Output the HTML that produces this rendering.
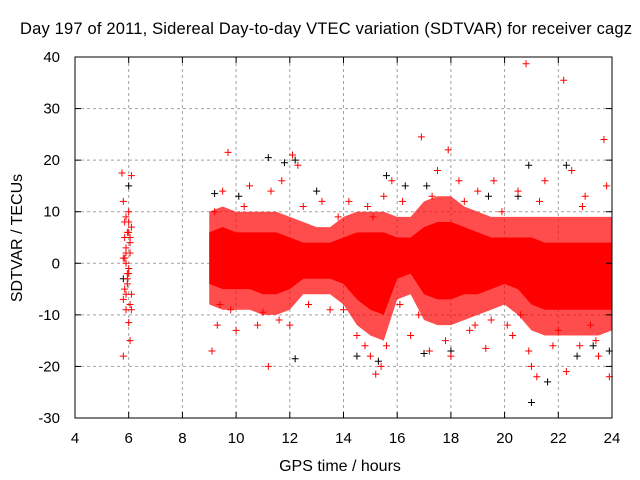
<!DOCTYPE html>
<html><head><meta charset="utf-8"><style>
body{margin:0;background:#fff}
svg{display:block;font-family:"Liberation Sans",sans-serif}
</style></head><body>
<svg id="c" width="640" height="480"></svg>
<script>
const xTicks=[4,6,8,10,12,14,16,18,20,22,24];
const yTicks=[-30,-20,-10,0,10,20,30,40];
const bandX=[9,9.5,10,10.5,11,11.5,12,12.5,13,13.5,14,14.5,15,15.5,16,16.5,17,17.5,18,18.5,19,19.5,20,20.5,21,21.5,22,22.5,23,23.5,24];
const bandLow=[-4,-5,-5,-5,-6,-6,-5,-3,-3,-3,-4,-7,-9,-10,-3,-2,-6,-7,-7,-6,-6,-5,-4,-5,-8,-9,-9,-9,-9,-9,-9];
const bandHigh=[6,7,6,6,6,6,5,4,4,4,5,6,6,6,5,5,7,8,8,7,6,5,5,5,5,4,4,4,4,4,4];
const outerLow=[-8,-9,-9,-9,-10,-10,-9,-6,-6,-6,-8,-12,-14,-15,-7,-6,-11,-12,-12,-11,-10,-9,-8,-10,-13,-14,-14,-14,-14,-14,-13];
const outerHigh=[10,11,10,10,10,10,9,8,7,7,9,10,10,10,9,9,12,13,13,11,10,9,9,9,9,9,9,9,9,9,9];
const ptX=[5.75,6.1,5.8,6.05,6,5.9,5.8,6,5.85,6.05,5.9,5.95,6.1,5.8,6,5.9,6.05,5.85,9.1,9.7,9.5,9.3,10,10.5,10.8,11.2,11.3,11.7,12.1,12.3,12,11.6,12.7,13.2,13.5,14.2,14.5,14.8,15,15.2,15.4,15.6,15.5,15.8,16.2,16.5,16.9,17.2,17.5,17.8,17.9,18,18.3,18.7,19,19.3,19.6,20.1,20.5,20.8,20.9,21,21.2,21.5,21.8,22.2,22.3,22.5,22.8,23,23.4,23.7,23.9,23.8,23.5,22,20.6,19.9,18.5,17.3,16.8,14,13.8,10.3,9.8,9.2,12.5,11,14.9,16.1,19.5,21.3,22.9,23.2,20.3,18.9,15.1,9.4,5.95,6.0,5.85,6.1,5.9,6.0,5.95,6.05,5.85,5.9,6.0,6.1,5.8,5.95,6.05,5.9];
const ptY=[17.5,17,-18,-15,-11.5,-9,12,8,-5,4,0,-3,7,-7,10,2,-8,5,-17,21.5,14,-12,-13,15,-12,-20,14,16,21,19,-12,-11,-8,12,-9,12,-14,-16,-18,-21.5,-20,-16,13,16,12,-14,24.5,-17,18,-15,22,-18,16,-13,14,-16.5,16,-12,14,38.7,-17,-20,-22,16,-16,35.5,-21,18,-16,13,-15,24,-22,15,-18,-13,-10,10,12,13,-10,-9,9,11,-9,10,11,-9.5,11,-8,-11,12,11,-12,-14,-12,9,-8,6,-2,1,-6,3,-1,-4,5,8,-6,6,-9,1,-2,2,9];
const blkX=[5.75,6,5.8,9.2,11.2,12.2,11.8,15.6,17.1,19.4,20.9,21,21.6,22.3,22.7,23.9,12.2,15.3,14.5,17,18,16.3,23.3,10.1,13,20.5];
const blkY=[17.5,15,-3,13.5,20.5,20,19.5,17,15,13,19,-27,-23,19,-18,-17,-18.5,-19,-18,-17.5,-17,15,-16,13,14,13];
const L=75,R=612,T=57,B=418;
const sx=v=>L+(v-4)/(24-4)*(R-L);
const sy=v=>B-(v+30)/70*(B-T);
const svg=document.getElementById('c');
const NS='http://www.w3.org/2000/svg';
function mk(t,a,p){const e=document.createElementNS(NS,t);for(const k in a)e.setAttribute(k,a[k]);(p||svg).appendChild(e);return e;}
xTicks.forEach(v=>{if(v>4&&v<24){const g=mk('line',{x1:sx(v),x2:sx(v),y1:T,y2:B,stroke:'#a0a0a0','stroke-dasharray':'3,3'});

}});
yTicks.forEach(v=>{if(v>-30&&v<40){const g=mk('line',{x1:L,x2:R,y1:sy(v),y2:sy(v),stroke:'#a0a0a0','stroke-dasharray':'3,3'});

}});
function band(lo,hi,op,name){let d='M'+bandX.map((x,i)=>sx(x)+','+sy(hi[i])).join('L');
for(let i=bandX.length-1;i>=0;i--)d+='L'+sx(bandX[i])+','+sy(lo[i]);
const p=mk('path',{d:d+'Z',fill:'#ff0000','fill-opacity':op});

}
band(outerLow,outerHigh,0.7,'sparse-point-band');
band(bandLow,bandHigh,1,'dense-point-band');
function cross(x,y,col,name){const g=mk('path',{d:`M${sx(x)-3.5},${sy(y)}h7M${sx(x)},${sy(y)-3.5}v7`,stroke:col,'stroke-width':1});

}
blkX.forEach((x,i)=>cross(x,blkY[i],'#000','black-point'));
ptX.forEach((x,i)=>cross(x,ptY[i],'#f00','red-point'));
const f=mk('rect',{x:L,y:T,width:R-L,height:B-T,fill:'none',stroke:'#000'});


xTicks.forEach(v=>{mk('line',{x1:sx(v),x2:sx(v),y1:B,y2:B-6,stroke:'#000'});mk('line',{x1:sx(v),x2:sx(v),y1:T,y2:T+6,stroke:'#000'});
const t=mk('text',{x:sx(v),y:443,'text-anchor':'middle','font-size':15});t.textContent=v;

});
yTicks.forEach(v=>{mk('line',{x1:L,x2:L+6,y1:sy(v),y2:sy(v),stroke:'#000'});mk('line',{x1:R,x2:R-6,y1:sy(v),y2:sy(v),stroke:'#000'});
const t=mk('text',{x:60,y:sy(v)+5,'text-anchor':'end','font-size':15});t.textContent=v;

});
</script>
<script>
(function(){const svg=document.getElementById('c');const NS='http://www.w3.org/2000/svg';
function tx(s,a,name){const e=document.createElementNS(NS,'text');for(const k in a)e.setAttribute(k,a[k]);e.textContent=s;


svg.appendChild(e);}
tx('Day 197 of 2011, Sidereal Day-to-day VTEC variation (SDTVAR) for receiver cagz',{x:326,y:34,'text-anchor':'middle','font-size':16.5,textLength:612},'chart-title');
tx('GPS time / hours',{x:340,y:471,'text-anchor':'middle','font-size':16},'x-axis-title');
tx('SDTVAR / TECUs',{x:0,y:0,'text-anchor':'middle','font-size':16,transform:'translate(22,238) rotate(-90)'},'y-axis-title');
})();
</script>
</body></html>
